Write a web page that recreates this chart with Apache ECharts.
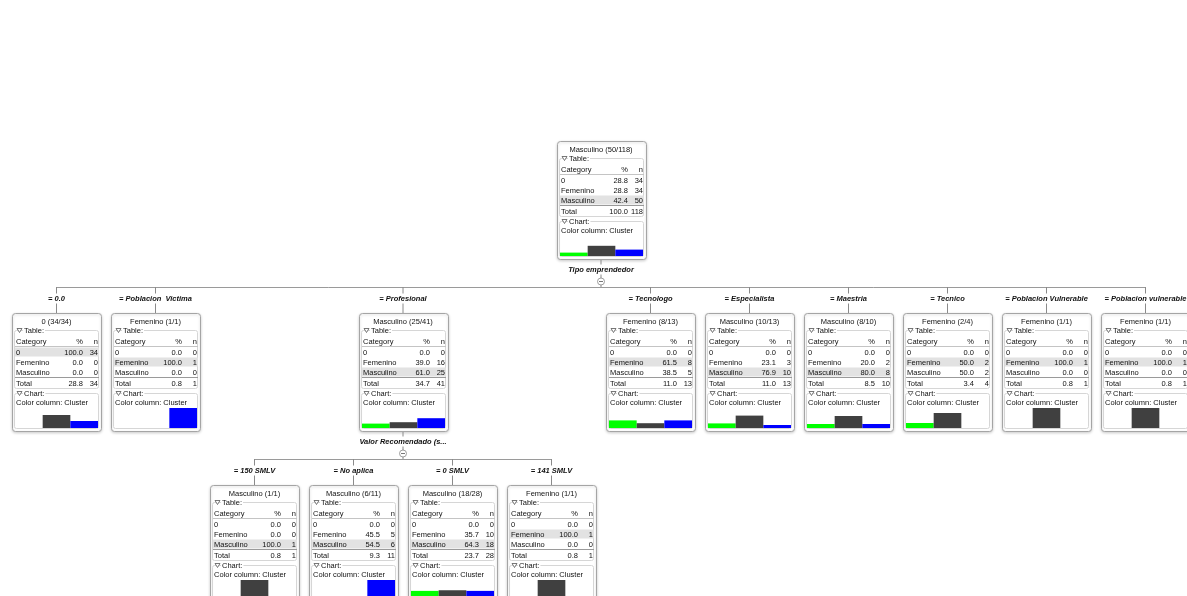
<!DOCTYPE html>
<html><head><meta charset="utf-8">
<script src="https://cdn.jsdelivr.net/npm/echarts@6/dist/echarts.min.js"></script>
<style>html,body{margin:0;padding:0;background:#fff}#c{width:1187px;height:596px}</style>
</head><body><div id="c"></div>
<script>
// ---- data ----
const categories = ['0', 'Femenino', 'Masculino'];
const clusterNames = ['Cluster_0', 'Cluster_1', 'Cluster_2'];
const clusterColors = ['#00ff00', '#404040', '#0000ff'];
const nodeParent = [-1, 0, 0, 0, 0, 0, 0, 0, 0, 0, 3, 3, 3, 3];
const nodeTitles = ['Masculino (50/118)', '0 (34/34)', 'Femenino (1/1)', 'Masculino (25/41)', 'Femenino (8/13)',
  'Masculino (10/13)', 'Masculino (8/10)', 'Femenino (2/4)', 'Femenino (1/1)', 'Femenino (1/1)',
  'Masculino (1/1)', 'Masculino (6/11)', 'Masculino (18/28)', 'Femenino (1/1)'];
const edgeLabels = ['', '= 0.0', '= Poblacion  Victima', '= Profesional', '= Tecnologo', '= Especialista',
  '= Maestria', '= Tecnico', '= Poblacion Vulnerable', '= Poblacion vulnerable',
  '= 150 SMLV', '= No aplica', '= 0 SMLV', '= 141 SMLV'];
const splitLabels = ['Tipo emprendedor', '', '', 'Valor Recomendado (s...', '', '', '', '', '', '', '', '', '', ''];
const nodeMajority = [2, 0, 1, 2, 1, 2, 2, 1, 1, 1, 2, 2, 2, 1];
const nodePct = [
  [28.8, 28.8, 42.4], [100.0, 0.0, 0.0], [0.0, 100.0, 0.0], [0.0, 39.0, 61.0], [0.0, 61.5, 38.5],
  [0.0, 23.1, 76.9], [0.0, 20.0, 80.0], [0.0, 50.0, 50.0], [0.0, 100.0, 0.0], [0.0, 100.0, 0.0],
  [0.0, 0.0, 100.0], [0.0, 45.5, 54.5], [0.0, 35.7, 64.3], [0.0, 100.0, 0.0]];
const nodeN = [
  [34, 34, 50], [34, 0, 0], [0, 1, 0], [0, 16, 25], [0, 8, 5],
  [0, 3, 10], [0, 2, 8], [0, 2, 2], [0, 1, 0], [0, 1, 0],
  [0, 0, 1], [0, 5, 6], [0, 10, 18], [0, 1, 0]];
const nodeTotalPct = [100.0, 28.8, 0.8, 34.7, 11.0, 11.0, 8.5, 3.4, 0.8, 0.8, 0.8, 9.3, 23.7, 0.8];
const nodeTotalN = [118, 34, 1, 41, 13, 13, 10, 4, 1, 1, 1, 11, 28, 1];
const clusterPct = [
  [17, 51, 32], [0, 65, 35], [0, 0, 100], [22, 29, 49], [38, 24, 38],
  [23, 62, 15], [20, 60, 20], [25, 75, 0], [0, 100, 0], [0, 100, 0],
  [0, 100, 0], [0, 0, 100], [32, 36, 32], [0, 100, 0]];

// ---- layout ----
const BOX_W = 89, BOX_H = 118, SLOT = 99, X0 = 12, TOP0 = 141, LEVEL = 172;
const FONT = "'Liberation Sans', Arial, sans-serif";
const FS = 7.5;
const children = nodeParent.map(() => []);
nodeParent.forEach((p, i) => { if (p >= 0) children[p].push(i); });
let slot = 0; const cx = [], depth = [];
function place(i, d) {
  depth[i] = d;
  const ch = children[i];
  if (!ch.length) { cx[i] = X0 + BOX_W / 2 + SLOT * slot; slot++; }
  else { ch.forEach(c => place(c, d + 1)); cx[i] = (cx[ch[0]] + cx[ch[ch.length - 1]]) / 2; }
}
place(0, 0);

const els = [];
function txt(x, y, s, o) {
  els.push(Object.assign({ type: 'text', z: 10, x: x, y: y,
    style: Object.assign({ text: s, fill: '#111', font: FS + 'px ' + FONT, textAlign: 'left', textVerticalAlign: 'middle' }, (o && o.style) || {}) },
    o && o.z != null ? { z: o.z } : {}));
}
function line(x1, y1, x2, y2, c, z) {
  els.push({ type: 'line', z: z || 5, shape: { x1: x1, y1: y1, x2: x2, y2: y2 }, style: { stroke: c || '#999', lineWidth: 1 } });
}
function tri(x, y) {
  els.push({ type: 'polygon', z: 12, shape: { points: [[x, y - 2], [x + 5, y - 2], [x + 2.5, y + 2]] }, style: { fill: '#fff', stroke: '#555', lineWidth: 0.8 } });
}

const grids = [], xAxes = [], yAxes = [], series = [];
nodeParent.forEach((p, i) => {
  const T = TOP0 + depth[i] * LEVEL, L = Math.round(cx[i] - BOX_W / 2);
  // box
  els.push({ type: 'rect', z: 0, shape: { x: L + 0.5, y: T + 0.5, width: BOX_W, height: BOX_H, r: 3 },
    style: { fill: '#fff', stroke: '#a5a5a5', lineWidth: 1, shadowBlur: 3, shadowColor: 'rgba(0,0,0,0.18)', shadowOffsetY: 1 } });
  txt(cx[i], T + 8.5, nodeTitles[i], { style: { textAlign: 'center' } });
  // table group border
  els.push({ type: 'rect', z: 1, shape: { x: L + 2.5, y: T + 17.5, width: 84, height: 58, r: 2 }, style: { fill: 'none', stroke: '#d6d6d6', lineWidth: 1 } });
  tri(L + 5, T + 17.5);
  txt(L + 11, T + 17.5, 'Table:', { style: { backgroundColor: '#fff', padding: [0, 1, 0, 1] } });
  txt(L + 4, T + 28.5, 'Category');
  txt(L + 71, T + 28.5, '%', { style: { textAlign: 'right' } });
  txt(L + 86, T + 28.5, 'n', { style: { textAlign: 'right' } });
  line(L + 3, T + 33.5, L + 87, T + 33.5, '#c4c4c4');
  const mr = nodeMajority[i];
  els.push({ type: 'rect', z: 2, shape: { x: L + 3, y: T + 34.5 + 10 * mr, width: 84, height: 9 }, style: { fill: '#e2e2e2' } });
  categories.forEach((c, r) => {
    const y = T + 39.5 + 10 * r;
    txt(L + 4, y, c);
    txt(L + 71, y, nodePct[i][r].toFixed(1), { style: { textAlign: 'right' } });
    txt(L + 86, y, String(nodeN[i][r]), { style: { textAlign: 'right' } });
  });
  line(L + 3, T + 64.5, L + 87, T + 64.5, '#9a9a9a');
  txt(L + 4, T + 70.5, 'Total');
  txt(L + 71, T + 70.5, nodeTotalPct[i].toFixed(1), { style: { textAlign: 'right' } });
  txt(L + 86, T + 70.5, String(nodeTotalN[i]), { style: { textAlign: 'right' } });
  // chart group
  els.push({ type: 'rect', z: 1, shape: { x: L + 2.5, y: T + 80.5, width: 84, height: 35, r: 2 }, style: { fill: 'none', stroke: '#d6d6d6', lineWidth: 1 } });
  tri(L + 5, T + 80.5);
  txt(L + 11, T + 80.5, 'Chart:', { style: { backgroundColor: '#fff', padding: [0, 1, 0, 1] } });
  txt(L + 4, T + 89.5, 'Color column: Cluster');
  grids.push({ left: L + 3, top: T + 95, width: 83, height: 20, containLabel: false });
  xAxes.push({ type: 'category', gridIndex: i, data: clusterNames, show: false });
  yAxes.push({ type: 'value', gridIndex: i, min: 0, max: 100, show: false });
  series.push({ type: 'bar', xAxisIndex: i, yAxisIndex: i, barCategoryGap: '0%', barGap: '0%', z: 3,
    data: clusterPct[i].map((v, k) => ({ value: v, itemStyle: { color: clusterColors[k] } })) });

  // connectors
  if (children[i].length) {
    const ch = children[i];
    const bot = T + BOX_H, bus = T + 146;
    line(cx[i], bot + 1, cx[i], bus, '#8a8a8a');
    txt(cx[i], T + 128.5, splitLabels[i], { style: { textAlign: 'center', font: 'italic bold ' + FS + 'px ' + FONT, backgroundColor: '#fff', padding: [1, 2, 1, 2] } });
    els.push({ type: 'circle', z: 12, shape: { cx: cx[i], cy: T + 140.5, r: 3.5 }, style: { fill: '#fff', stroke: '#888', lineWidth: 0.8 } });
    line(cx[i] - 2, T + 140.5, cx[i] + 2, T + 140.5, '#777', 13);
    line(cx[ch[0]], bus + 0.5, cx[ch[ch.length - 1]], bus + 0.5, '#9a9a9a');
    ch.forEach(c => {
      line(cx[c], bus, cx[c], TOP0 + depth[c] * LEVEL, '#8a8a8a');
      txt(cx[c], T + 157.5, edgeLabels[c], { style: { textAlign: 'center', font: 'italic bold ' + FS + 'px ' + FONT, backgroundColor: '#fff', padding: [1, 2, 1, 2] } });
    });
  }
});

const chart = echarts.init(document.getElementById('c'));
chart.setOption({
  animation: false,
  backgroundColor: '#fff',
  grid: grids, xAxis: xAxes, yAxis: yAxes, series: series,
  graphic: { elements: els }
});
</script></body></html>
